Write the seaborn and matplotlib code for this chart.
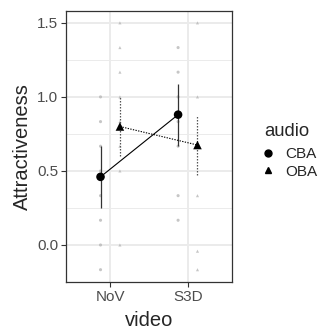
import pandas as pd
import matplotlib.pyplot as plt
import seaborn as sns
from matplotlib.lines import Line2D

videos = ["NoV", "S3D"]
audios = ["CBA", "OBA"]

# summary values (mean and half-width of error bar)
cba_mean = [0.46, 0.88]
cba_err = [0.207, 0.21]
oba_mean = [0.80, 0.675]
oba_err = [0.20, 0.205]

# raw responses shown faintly in the background
cba_nov_raw = [1.0, 0.833, 0.667, 0.5, 0.333, 0.167, 0.0, -0.167]
cba_s3d_raw = [1.333, 1.167, 1.0, 0.833, 0.667, 0.333, 0.167]
oba_nov_raw = [1.5, 1.333, 1.167, 1.0, 0.833, 0.667, 0.5, 0.0]
oba_s3d_raw = [1.5, 1.0, 0.667, 0.333, -0.042, -0.167]

dodge = {"CBA": -0.125, "OBA": 0.125}
markers = {"CBA": "o", "OBA": "^"}

rows = []
for audio, raws in [("CBA", [cba_nov_raw, cba_s3d_raw]), ("OBA", [oba_nov_raw, oba_s3d_raw])]:
    for i, vals in enumerate(raws):
        for v in vals:
            rows.append({"audio": audio, "video": videos[i], "x": i + dodge[audio], "value": v})
raw = pd.DataFrame(rows)

summ = pd.DataFrame({
    "audio": ["CBA", "CBA", "OBA", "OBA"],
    "video": videos * 2,
    "mean": cba_mean + oba_mean,
    "err": cba_err + oba_err,
})
summ["x"] = [i + dodge[a] for a, i in zip(summ["audio"], [0, 1, 0, 1])]

sns.set_style("white")
plt.rcParams["font.family"] = ["Liberation Sans", "DejaVu Sans"]

fig = plt.figure(figsize=(3.21, 3.29), dpi=100)
ax = fig.add_axes([66 / 321, 1 - 282 / 329, (232 - 66) / 321, (282 - 11) / 329])

# grid
for y in [0.25, 0.75, 1.25]:
    ax.axhline(y, color="#EBEBEB", lw=0.7, zorder=0)
for y in [0.0, 0.5, 1.0, 1.5]:
    ax.axhline(y, color="#EBEBEB", lw=1.4, zorder=0)
for x in [0, 1]:
    ax.axvline(x, color="#EBEBEB", lw=1.4, zorder=0)

# raw points
sns.scatterplot(data=raw, x="x", y="value", style="audio", markers=markers,
                color="#B8B8B8", s=5, linewidth=0, alpha=0.8, legend=False, ax=ax, zorder=1)

# connecting lines and error bars
styles = {"CBA": "-", "OBA": (0, (1.2, 1.2))}
for audio in audios:
    d = summ[summ["audio"] == audio]
    sns.lineplot(data=d, x="x", y="mean", color="black", lw=0.8,
                 linestyle=styles[audio], ax=ax, zorder=2)
    ax.vlines(d["x"], d["mean"] - d["err"], d["mean"] + d["err"],
              colors="#333333" if audio == "CBA" else "#555555", lw=0.9,
              linestyles=styles[audio], zorder=2)

# mean points
sns.scatterplot(data=summ, x="x", y="mean", style="audio", markers=markers,
                color="black", s=38, linewidth=0, legend=False, ax=ax, zorder=3)

ax.set_xlim(-0.57, 1.57)
ax.set_ylim(-0.25, 1.58)
ax.set_xticks([0, 1])
ax.set_xticklabels(videos)
ax.set_yticks([0.0, 0.5, 1.0, 1.5])
ax.set_yticklabels(["0.0", "0.5", "1.0", "1.5"])
ax.tick_params(axis="both", length=3.5, width=0.8, color="#333333",
               labelcolor="#4D4D4D", labelsize=11, pad=2, left=True, bottom=True)
for s in ax.spines.values():
    s.set_color("#333333")
    s.set_linewidth(0.9)
ax.set_xlabel("video", fontsize=14.5, labelpad=5)
ax.set_ylabel("Attractiveness", fontsize=14.5, labelpad=4)

# legend: title as text, entries below
fig.text(264 / 321, 1 - 136 / 329, "audio", fontsize=13.3, ha="left", va="baseline")
handles = [Line2D([], [], marker=markers[a], color="black", ls="none", markersize=5)
           for a in audios]
leg = fig.legend(handles, audios, frameon=False, fontsize=11, loc="upper left",
                 bbox_to_anchor=(264 / 321, 1 - 147 / 329), borderaxespad=0, borderpad=0,
                 handletextpad=0.85, labelspacing=0.25, handlelength=0.55)

fig.savefig("out.png", dpi=100)
